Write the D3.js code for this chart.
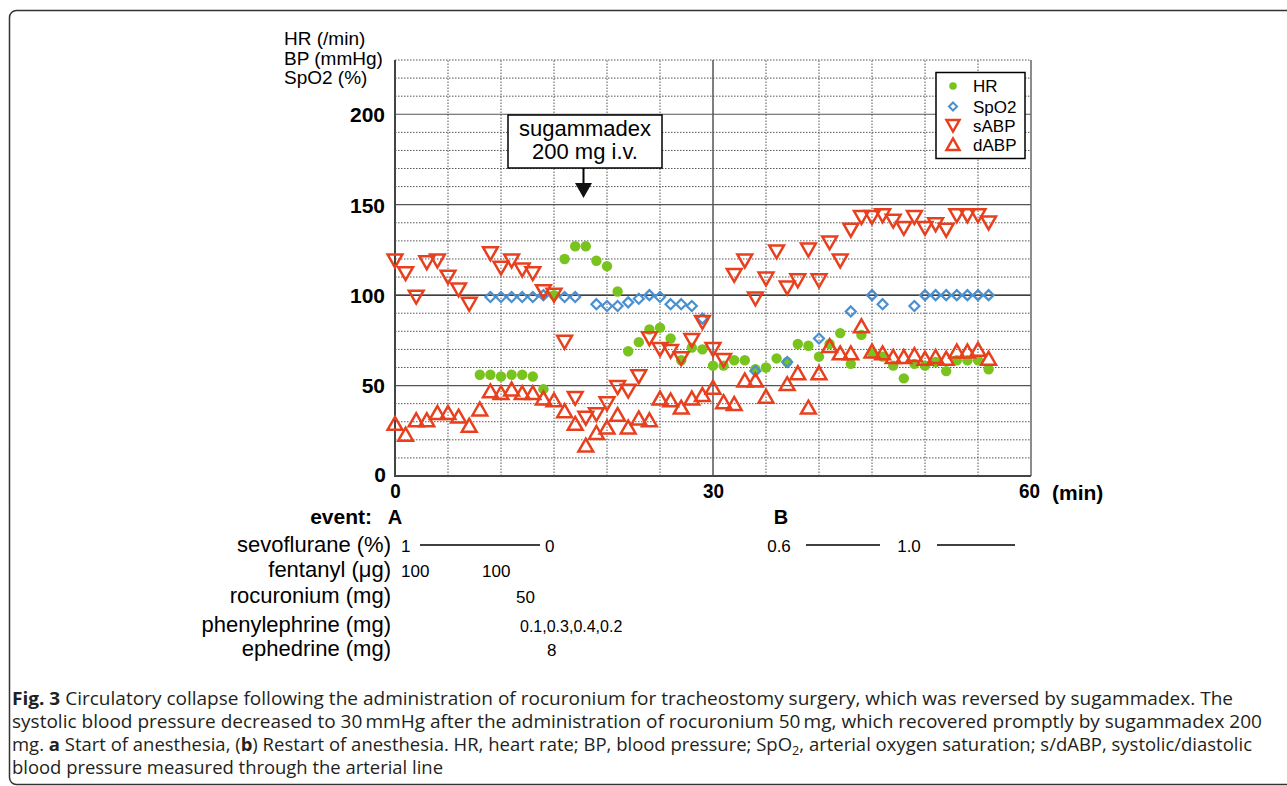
<!DOCTYPE html>
<html><head><meta charset="utf-8">
<script src="https://cdn.jsdelivr.net/npm/d3@7"></script>
<style>
body{margin:0;background:#fff}
svg{display:block}
</style>
</head><body>
<svg id="c" width="1287" height="786" font-family="Liberation Sans, Arial, sans-serif"></svg>
<script>
// ---------- data ----------
const hrMin   = [8,9,10,11,12,13,14,15,16,17,18,19,20,21,22,23,24,25,26,27,28,29,30,31,32,33,34,35,36,37,38,39,40,41,42,43,44,45,46,47,48,49,50,51,52,53,54,55,56];
const hrVal   = [56,56,55,56,56,55,48,100,120,127,127,119,116,102,69,74,81,82,76,64,71,70,61,61,64,64,59,60,65,63,73,72,66,73,79,62,78,68,66,61,54,62,61,63,58,64,64,64,59];

const spo2Min = [9,10,11,12,13,14,16,17,19,20,21,22,23,24,25,26,27,28,29,34,37,40,43,45,46,49,50,51,52,53,54,55,56];
const spo2Val = [99,99,99,99,99,100,99,99,95,94,94,96,98,100,99,95,95,94,87,58,63,76,91,100,95,94,100,100,100,100,100,100,100];

const sabpMin = [0,1,2,3,4,5,6,7,9,10,11,12,13,14,15,16,17,18,19,20,21,22,23,24,25,26,27,28,29,30,31,32,33,34,35,36,37,38,39,40,41,42,43,44,45,46,47,48,49,50,51,52,53,54,55,56];
const sabpVal = [119,112,99,118,119,110,103,95,123,115,119,114,112,102,100,74,43,32,34,40,49,47,55,76,70,69,65,75,85,70,64,111,119,98,109,124,104,108,125,108,129,119,136,143,143,144,141,137,143,137,139,136,144,144,144,140];

const dabpMin = [0,1,2,3,4,5,6,7,8,9,10,11,12,13,14,15,16,17,18,19,20,21,22,23,24,25,26,27,28,29,30,31,32,33,34,35,37,38,39,40,41,42,43,44,45,46,47,48,49,50,51,52,53,54,55,56];
const dabpVal = [29,23,31,31,35,35,33,28,37,47,46,48,46,46,43,42,36,29,17,24,27,34,27,32,31,43,42,38,43,45,49,41,40,53,53,44,51,57,38,57,72,68,68,83,69,68,66,66,67,65,66,65,69,69,70,65];

const yTicks = [0,50,100,150,200];
const xTicks = [0,30,60];
const legendLabels = ["HR","SpO2","sABP","dABP"];
const axisTitle = ["HR (/min)","BP (mmHg)","SpO2 (%)"];
const drugRows = ["sevoflurane (%)","fentanyl (μg)","rocuronium (mg)","phenylephrine (mg)","ephedrine (mg)"];

// ---------- setup ----------
const FONT = '"Liberation Sans", Arial, sans-serif';
const CAPFONT = '"Open Sans", "Noto Sans", sans-serif';
const svg = d3.select('#c');
const x = d3.scaleLinear().domain([0,60]).range([395,1031]);
const y = d3.scaleLinear().domain([0,230]).range([476,60]);
const GREEN = '#78c31d', BLUE = '#4a8fd0', RED = '#e8401e';

// frame
svg.append('rect').attr('x',9.5).attr('y',10.5).attr('width',1300).attr('height',774)
  .attr('rx',7).attr('fill','none').attr('stroke','#333').attr('stroke-width',1.5);

// grid
const g = svg.append('g');
d3.range(10,231,10).forEach(v=>{
  const solid = v%50===0;
  g.append('line').attr('x1',x(0)).attr('x2',x(60)).attr('y1',y(v)).attr('y2',y(v))
    .attr('stroke', v===100?'#000':(solid?'#555':'#555'))
    .attr('stroke-width', solid?1.2:1)
    .attr('stroke-dasharray', solid?null:'1.5,1.5');
});
d3.range(5,60,5).forEach(t=>{
  const solid = t===30;
  g.append('line').attr('x1',x(t)).attr('x2',x(t)).attr('y1',y(0)).attr('y2',y(230))
    .attr('stroke', solid?'#555':'#555')
    .attr('stroke-width', solid?1.5:1)
    .attr('stroke-dasharray', solid?null:'1.5,1.5');
});
g.append('line').attr('x1',x(60)).attr('x2',x(60)).attr('y1',y(0)).attr('y2',y(230))
  .attr('stroke','#666').attr('stroke-width',1.5);
g.append('line').attr('x1',x(0)).attr('x2',x(0)).attr('y1',y(0)+1).attr('y2',y(230))
  .attr('stroke','#444').attr('stroke-width',2);
g.append('line').attr('x1',x(0)).attr('x2',x(60)).attr('y1',y(0)).attr('y2',y(0))
  .attr('stroke','#444').attr('stroke-width',2);

// y axis tick labels
const yAx = svg.append('g').attr('transform',`translate(${x(0)},0)`)
  .call(d3.axisLeft(y).tickValues(yTicks).tickSize(0).tickPadding(10).tickFormat(d3.format('d')))
  .attr('font-family',FONT).attr('font-size',21);
yAx.select('.domain').remove();
yAx.selectAll('text')
  .attr('font-weight','bold').attr('fill','#000')
  .attr('x', d=> d===0 ? -9 : -10)
  .attr('dy', d=> d===0 ? '0.25em' : '0.35em');

// x axis tick labels
const xAx = svg.append('g').attr('transform',`translate(0,${y(0)})`)
  .call(d3.axisBottom(x).tickValues(xTicks).tickSize(0).tickPadding(7).tickFormat(d3.format('d')))
  .attr('font-family',FONT).attr('font-size',21);
xAx.select('.domain').remove();
xAx.selectAll('text')
  .attr('font-weight','bold').attr('fill','#000')
  .attr('x', d=> d===60 ? -2 : 0)
  .attr('textLength', d=> String(d).length*10.5)
  .attr('lengthAdjust','spacingAndGlyphs');
svg.append('text').attr('x',1052).attr('y',500).attr('font-size',21).attr('font-weight','bold').text('(min)');

// axis title
axisTitle.forEach((t,i)=>{
  svg.append('text').attr('x',284).attr('y',[45,65,84][i]).attr('font-size',19).text(t);
});

// marker shapes
const diamond = 'M0,-5L5,0L0,5L-5,0Z';
const triDown = 'M-7.4,-6.3L7.4,-6.3L0,6.6Z';
const triUp   = 'M-7.4,6.3L7.4,6.3L0,-6.6Z';

const marks = svg.append('g');
marks.selectAll('.hr').data(hrMin.map((t,i)=>[t,hrVal[i]])).join('circle')
  .attr('cx',d=>x(d[0])).attr('cy',d=>y(d[1])).attr('r',5.2).attr('fill',GREEN);
marks.selectAll('.sp').data(spo2Min.map((t,i)=>[t,spo2Val[i]])).join('path')
  .attr('d',diamond).attr('transform',d=>`translate(${x(d[0])},${y(d[1])})`)
  .attr('fill','none').attr('stroke',BLUE).attr('stroke-width',2.2);
marks.selectAll('.sa').data(sabpMin.map((t,i)=>[t,sabpVal[i]])).join('path')
  .attr('d',triDown).attr('transform',d=>`translate(${x(d[0])},${y(d[1])})`)
  .attr('fill','none').attr('stroke',RED).attr('stroke-width',2.5);
marks.selectAll('.da').data(dabpMin.map((t,i)=>[t,dabpVal[i]])).join('path')
  .attr('d',triUp).attr('transform',d=>`translate(${x(d[0])},${y(d[1])})`)
  .attr('fill','none').attr('stroke',RED).attr('stroke-width',2.5);

// legend
const lg = svg.append('g');
lg.append('rect').attr('x',936).attr('y',72.5).attr('width',89).attr('height',86)
  .attr('fill','#fff').attr('stroke','#000').attr('stroke-width',1.5);
const rowsY = [86,106.5,125.5,144.5];
lg.append('circle').attr('cx',953).attr('cy',rowsY[0]).attr('r',3.8).attr('fill',GREEN);
lg.append('path').attr('d','M0,-4L4,0L0,4L-4,0Z').attr('transform',`translate(953,${rowsY[1]})`)
  .attr('fill','none').attr('stroke',BLUE).attr('stroke-width',2);
lg.append('path').attr('d','M-6.5,-5.5L6.5,-5.5L0,6Z').attr('transform',`translate(953,${rowsY[2]})`)
  .attr('fill','none').attr('stroke',RED).attr('stroke-width',2.5);
lg.append('path').attr('d','M-6.5,5.5L6.5,5.5L0,-6Z').attr('transform',`translate(953,${rowsY[3]})`)
  .attr('fill','none').attr('stroke',RED).attr('stroke-width',2.5);
legendLabels.forEach((l,i)=>{
  lg.append('text').attr('x',973).attr('y',rowsY[i]+6).attr('font-size',17).text(l);
});

// annotation box
const an = svg.append('g');
an.append('rect').attr('x',508).attr('y',115).attr('width',154).attr('height',53)
  .attr('fill','#fff').attr('stroke','#000').attr('stroke-width',1.5);
an.append('text').attr('x',585).attr('y',136).attr('text-anchor','middle').attr('font-size',22).text('sugammadex');
an.append('text').attr('x',585).attr('y',159).attr('text-anchor','middle').attr('font-size',22).text('200 mg i.v.');
an.append('line').attr('x1',583.5).attr('x2',583.5).attr('y1',168).attr('y2',185).attr('stroke','#000').attr('stroke-width',2);
an.append('path').attr('d','M575,183L592,183L583.5,198Z').attr('fill','#111');

// event / drug table
const tb = svg.append('g');
tb.append('text').attr('x',372).attr('y',524).attr('text-anchor','end').attr('font-size',21).attr('font-weight','bold').text('event:');
tb.append('text').attr('x',x(0)).attr('y',524).attr('text-anchor','middle').attr('font-size',20).attr('font-weight','bold').text('A');
tb.append('text').attr('x',781).attr('y',524).attr('text-anchor','middle').attr('font-size',20).attr('font-weight','bold').text('B');
const rowBase = [552,577,603,632,656];
drugRows.forEach((r,i)=>{
  tb.append('text').attr('x',391).attr('y',rowBase[i]).attr('text-anchor','end').attr('font-size',22).text(r);
});
const small = (tx,xx,yy,fs,anchor)=>tb.append('text').attr('x',xx).attr('y',yy).attr('font-size',fs||17).attr('text-anchor',anchor||'start').text(tx);
small('1',401,552);
tb.append('line').attr('x1',420).attr('x2',540).attr('y1',545).attr('y2',545).attr('stroke','#000').attr('stroke-width',1.3);
small('0',545,552);
small('0.6',779,552,17,'middle');
tb.append('line').attr('x1',806).attr('x2',880).attr('y1',545).attr('y2',545).attr('stroke','#000').attr('stroke-width',1.3);
small('1.0',909,552,17,'middle');
tb.append('line').attr('x1',937).attr('x2',1015).attr('y1',545).attr('y2',545).attr('stroke','#000').attr('stroke-width',1.3);
small('100',401,577);
small('100',482,577);
small('50',516,603);
small('0.1,0.3,0.4,0.2',520,632,16);
small('8',547,656);

// caption
const capColor = '#231f20';
const cap = svg.append('g').attr('font-family',CAPFONT).attr('fill',capColor);
function capLine(yy,len,parts){
  const t = cap.append('text').attr('x',12).attr('y',yy).attr('font-size',17.5)
    .attr('textLength',len).attr('lengthAdjust','spacingAndGlyphs');
  parts.forEach(p=>{
    const s = t.append('tspan').text(p.t);
    if(p.b) s.attr('font-weight','bold');
    if(p.sub) s.attr('font-size',12).attr('dy',4);
    if(p.after) s.attr('dy',-4);
  });
}
capLine(705,1221,[{t:'Fig. 3',b:true},{t:' Circulatory collapse following the administration of rocuronium for tracheostomy surgery, which was reversed by sugammadex. The'}]);
capLine(728,1250,[{t:'systolic blood pressure decreased to 30\u2009mmHg after the administration of rocuronium 50\u2009mg, which recovered promptly by sugammadex 200'}]);
capLine(751,1240,[{t:'mg. '},{t:'a',b:true},{t:' Start of anesthesia, ('},{t:'b',b:true},{t:') Restart of anesthesia. HR, heart rate; BP, blood pressure; SpO'},{t:'2',sub:true},{t:', arterial oxygen saturation; s/dABP, systolic/diastolic',after:true}]);
capLine(774,431,[{t:'blood pressure measured through the arterial line'}]);
</script>
</body></html>
